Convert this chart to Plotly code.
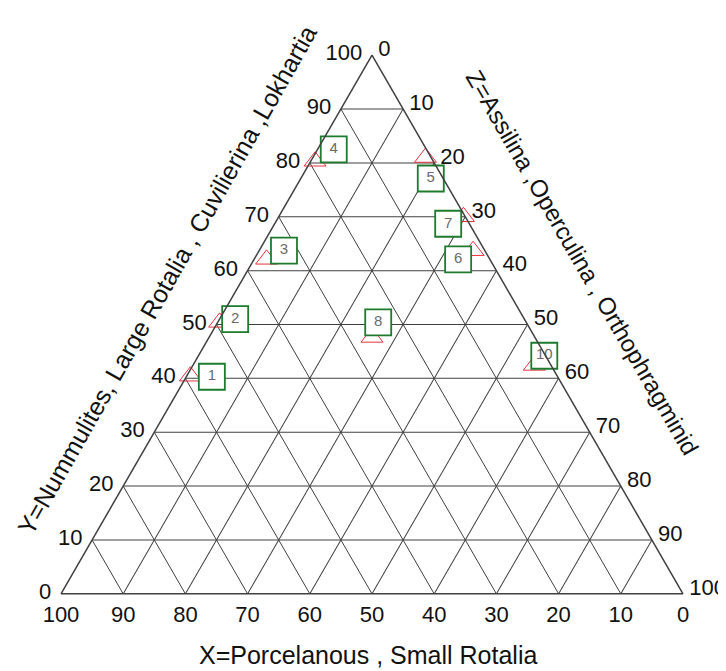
import plotly.graph_objects as go

# Sample ids
samples = ["1", "2", "3", "4", "5", "6", "7", "8", "10"]
# Data points (red triangles): Y (a), Z (c); X (b) is the remainder
pt_y = [40.4, 50.4, 62.1, 80.3, 81.0, 63.7, 70.0, 47.6, 42.4]
pt_z = [0.6, 0.3, 2.0, 0.7, 18.1, 34.4, 29.7, 26.2, 54.9]
pt_x = [round(100 - a - c, 1) for a, c in zip(pt_y, pt_z)]
# Label box positions (green squares)
lb_y = [40.3, 51.0, 63.7, 82.5, 77.1, 62.1, 68.7, 50.4, 44.2]
lb_z = [4.1, 2.5, 4.0, 2.6, 20.9, 32.8, 27.9, 25.8, 55.6]
lb_x = [round(100 - a - c, 1) for a, c in zip(lb_y, lb_z)]

tick_vals = [0, 10, 20, 30, 40, 50, 60, 70, 80, 90, 100]
tick_text = [str(v) for v in tick_vals]

font_family = "Liberation Sans, Arial, sans-serif"

fig = go.Figure()
fig.add_trace(go.Scatterternary(
    a=pt_y, b=pt_x, c=pt_z, mode="markers",
    marker=dict(symbol="triangle-up-open", size=19, color="#e8343e",
                line=dict(width=1)),
    hoverinfo="skip", showlegend=False, cliponaxis=False))
fig.add_trace(go.Scatterternary(
    a=lb_y, b=lb_x, c=lb_z, mode="markers+text", text=samples,
    textposition="middle center",
    textfont=dict(family=font_family, size=15, color="#6a6a6a"),
    marker=dict(symbol="square", size=26, color="white",
                line=dict(width=1.8, color="#1e7a2c")),
    hoverinfo="skip", showlegend=False, cliponaxis=False))


def axis(ticklen):
    return dict(
        tickmode="array", tickvals=tick_vals, ticktext=tick_text,
        ticks="outside", ticklen=ticklen, tickcolor="rgba(0,0,0,0)",
        showgrid=True, gridcolor="#404040", gridwidth=1.3,
        showline=True, linecolor="#404040", linewidth=1.5,
        tickfont=dict(family=font_family, size=22, color="#111111"),
        title=dict(text=""), min=0,
    )


# page has an 8px body margin; figure coordinates = page coordinates - 8
OFF = 8
FW, FH = 726 - OFF, 671 - OFF
L, R, T, B = 53, 43, 47, 77

fig.update_layout(
    width=FW, height=FH,
    paper_bgcolor="white",
    margin=dict(l=L, r=R, t=T, b=B),
    ternary=dict(
        sum=100,
        bgcolor="white",
        aaxis=axis(6),
        baxis=axis(0),
        caxis=axis(5),
    ),
    font=dict(family=font_family),
)

W = FW - L - R
H = FH - T - B


def px(x, y):
    x, y = x - OFF, y - OFF
    return (x - L) / W, (FH - B - y) / H


annos = [
    ("Y=Nummulites, Large Rotalia , Cuvilierina ,Lokhartia", 167, 280, -60.5, 25),
    ("Z=Assilina ,Operculina , Orthophragminid", 582, 263, 60.0, 24),
    ("X=Porcelanous , Small Rotalia", 368, 655, 0, 25),
]
for text, x, y, ang, fs in annos:
    ax, ay = px(x, y)
    fig.add_annotation(text=text, xref="paper", yref="paper", x=ax, y=ay,
                       xanchor="center", yanchor="middle",
                       showarrow=False, textangle=ang,
                       font=dict(family=font_family, size=fs, color="#111111"))

fig.write_html("out.html")
